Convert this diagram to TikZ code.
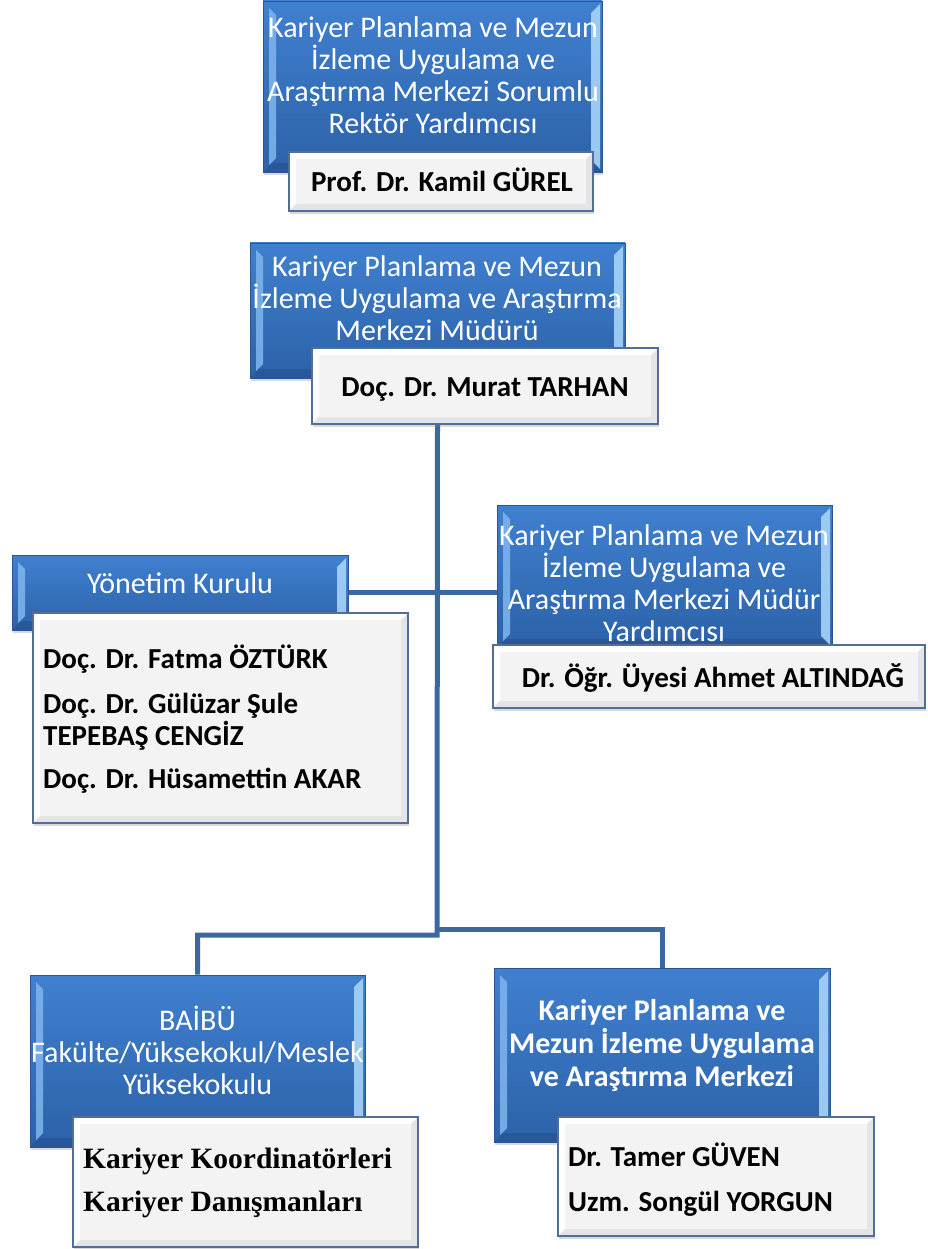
\documentclass[tikz,border=0pt]{standalone}
\usepackage{fontspec}
\setmainfont{Carlito}
\newfontfamily\timesfont{Liberation Serif}
\usetikzlibrary{shadows,backgrounds}
\definecolor{boxtop}{RGB}{64,128,208}
\definecolor{boxbot}{RGB}{44,98,168}
\definecolor{boxedge}{RGB}{42,86,146}
\definecolor{bevleft}{RGB}{128,182,238}
\definecolor{bevright}{RGB}{166,211,248}
\definecolor{bevbot}{RGB}{34,76,135}
\definecolor{paper}{RGB}{243,243,243}
\definecolor{paperedge}{RGB}{82,110,150}
\definecolor{paperdark}{RGB}{226,228,232}
\definecolor{linkblue}{RGB}{59,104,158}

\begin{document}
\begin{tikzpicture}[x=1pt,y=-1pt,
    every node/.style={inner sep=0pt},
    bluebox/.style={rectangle, draw=boxedge, line width=.8pt,
        top color=boxtop, bottom color=boxbot,
        drop shadow={shadow xshift=1pt,shadow yshift=-3pt,opacity=.3},
        path picture={
            \coordinate (nw) at (path picture bounding box.north west);
            \coordinate (ne) at (path picture bounding box.north east);
            \coordinate (sw) at (path picture bounding box.south west);
            \coordinate (se) at (path picture bounding box.south east);
            \fill[bevleft,opacity=.85] ([shift={(6pt,-7pt)}]nw) -- ([shift={(6pt,7pt)}]sw) -- ([shift={(13pt,14pt)}]sw) -- ([shift={(13pt,-14pt)}]nw) -- cycle;
            \fill[bevright,opacity=.9] ([shift={(-2pt,-3pt)}]ne) -- ([shift={(-2pt,3pt)}]se) -- ([shift={(-11pt,12pt)}]se) -- ([shift={(-11pt,-12pt)}]ne) -- cycle;
            \fill[bevbot,opacity=.45] (sw) -- (se) -- ([shift={(-9pt,9pt)}]se) -- ([shift={(9pt,9pt)}]sw) -- cycle;
        }},
    whitebox/.style={rectangle, draw=paperedge, line width=1.2pt, fill=paper,
        drop shadow={shadow xshift=1pt,shadow yshift=-3pt,opacity=.3},
        path picture={
            \coordinate (nw) at (path picture bounding box.north west);
            \coordinate (ne) at (path picture bounding box.north east);
            \coordinate (sw) at (path picture bounding box.south west);
            \coordinate (se) at (path picture bounding box.south east);
            \fill[white] (nw) -- (sw) -- ([shift={(7pt,7pt)}]sw) -- ([shift={(7pt,-7pt)}]nw) -- cycle;
            \fill[white] (nw) -- (ne) -- ([shift={(-7pt,-7pt)}]ne) -- ([shift={(7pt,-7pt)}]nw) -- cycle;
            \fill[paperdark] (ne) -- (se) -- ([shift={(-7pt,7pt)}]se) -- ([shift={(-7pt,-7pt)}]ne) -- cycle;
            \fill[paperdark] (sw) -- (se) -- ([shift={(-7pt,7pt)}]se) -- ([shift={(7pt,7pt)}]sw) -- cycle;
        }},
    titletext/.style={white, align=center, font=\fontsize{30}{32}\selectfont},
    titlebold/.style={white, align=center, font=\bfseries\fontsize{30}{33}\selectfont},
    nametext/.style={black, font=\bfseries\fontsize{29}{32}\selectfont},
    link/.style={draw=linkblue, line width=5pt}]

    \useasboundingbox (0,0) rectangle (927,1249);

    \coordinate (split) at (437,935);
    \coordinate (splitr) at (437,929);

    \node[bluebox, minimum width=339pt, minimum height=171pt] (b1) at (432.5,86.5) {};
    \node[bluebox, minimum width=375pt, minimum height=135pt] (b2) at (437.5,310.5) {};
    \node[bluebox, minimum width=336pt, minimum height=75pt] (b3) at (180,592.5) {};
    \node[bluebox, minimum width=335pt, minimum height=143pt] (b4) at (664.5,576.5) {};
    \node[bluebox, minimum width=335pt, minimum height=172pt] (b5) at (197.5,1061) {};
    \node[bluebox, minimum width=336pt, minimum height=174pt] (b6) at (662,1055) {};

    \node[titletext] (t1) at (433,75) {Kariyer Planlama ve Mezun\\İzleme Uygulama ve\\Araştırma Merkezi Sorumlu\\Rektör Yardımcısı};
    \node[titletext] (t2) at (437,298) {Kariyer Planlama ve Mezun\\İzleme Uygulama ve Araştırma\\Merkezi Müdürü};
    \node[titletext] (t3) at (180,583) {Yönetim Kurulu};
    \node[titletext] (t4) at (664,583) {Kariyer Planlama ve Mezun\\İzleme Uygulama ve\\Araştırma Merkezi Müdür\\Yardımcısı};
    \node[titletext] (t5) at (197.5,1050) {BAİBÜ\\Fakülte/Yüksekokul/Meslek\\Yüksekokulu};
    \node[titlebold] (t6) at (662,1045) {Kariyer Planlama ve\\Mezun İzleme Uygulama\\ve Araştırma Merkezi};

    \node[whitebox, minimum width=304pt, minimum height=59pt] (w1) at (441,181.5) {};
    \node[whitebox, minimum width=346pt, minimum height=76pt] (w2) at (485,386) {};
    \node[whitebox, minimum width=375pt, minimum height=210pt] (w3) at (220.5,718) {};
    \node[whitebox, minimum width=432pt, minimum height=63pt] (w4) at (709,676.5) {};
    \node[whitebox, minimum width=345pt, minimum height=130pt] (w5) at (245.5,1182) {};
    \node[whitebox, minimum width=316pt, minimum height=119pt] (w6) at (716,1176.5) {};

    \node[nametext] (n1) at (442,180) {Prof. Dr. Kamil GÜREL};
    \node[nametext] (n2) at (485,390) {Doç. Dr. Murat TARHAN};
    \node[nametext, anchor=west, align=left] (n3) at (43,719) {Doç. Dr. Fatma ÖZTÜRK\\[13pt]Doç. Dr. Gülüzar Şule\\TEPEBAŞ CENGİZ\\[11pt]Doç. Dr. Hüsamettin AKAR};
    \node[nametext] (n4) at (713,678) {Dr. Öğr. Üyesi Ahmet ALTINDAĞ};
    \node[black, anchor=west, align=left, font=\timesfont\bfseries\fontsize{29.5}{43}\selectfont] (n5) at (83,1183) {Kariyer Koordinatörleri\\Kariyer Danışmanları};
    \node[nametext, anchor=west, align=left, font=\bfseries\fontsize{29}{45}\selectfont] (n6) at (568,1180) {Dr. Tamer GÜVEN\\Uzm. Songül YORGUN};

    \begin{scope}[on background layer]
        \draw[link] (w2.south -| b2) -- (split) -| (b5.north);
        \draw[link] (splitr) -| (b6.north);
        \draw[link] (b3.east) -- (b4.west |- b3.east);
    \end{scope}
\end{tikzpicture}
\end{document}
